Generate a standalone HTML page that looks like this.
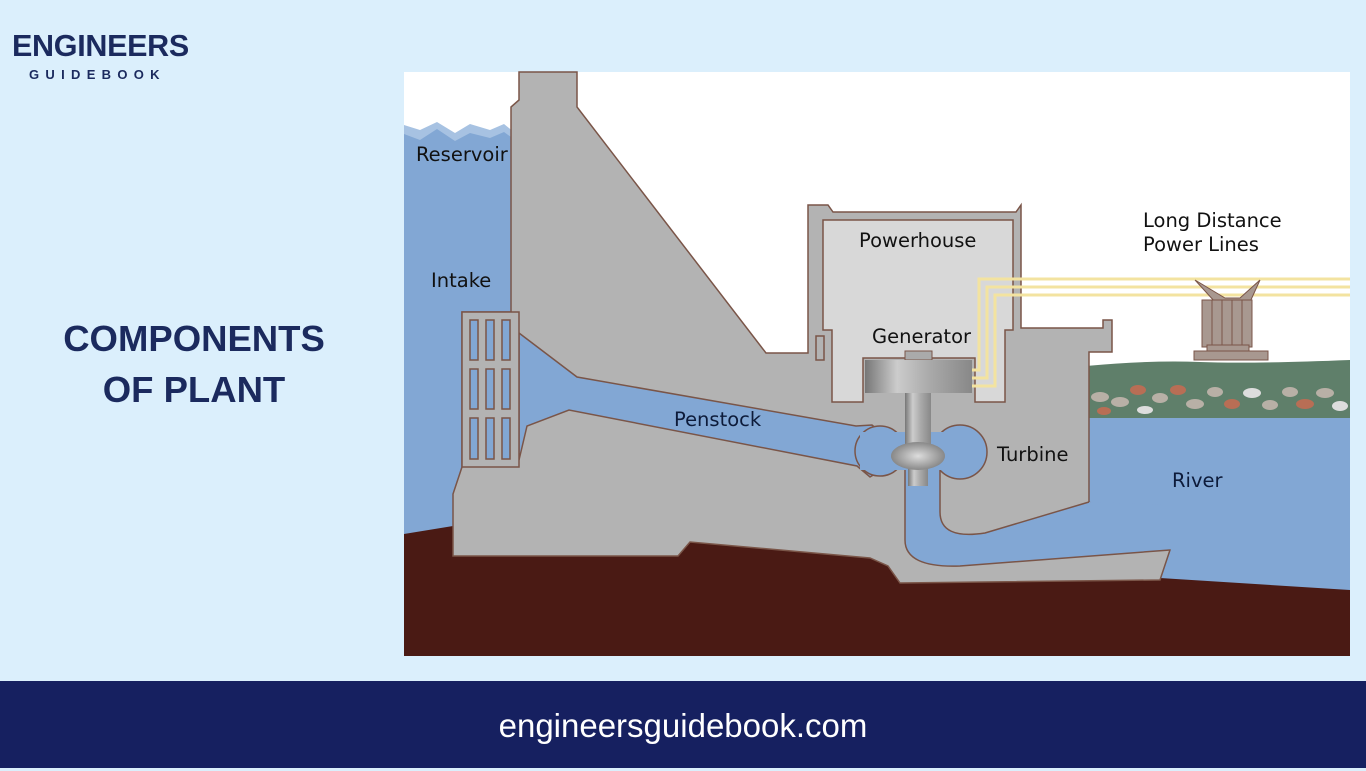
<!DOCTYPE html>
<html><head><meta charset="utf-8"><style>
html,body{margin:0;padding:0}
body{width:1366px;height:768px;background:#dbeffc;position:relative;overflow:hidden;font-family:"Liberation Sans",sans-serif}
.l1{position:absolute;left:12px;top:29px;font-weight:bold;font-size:30.5px;color:#1b2a5e;letter-spacing:-0.3px}
.l2{position:absolute;left:29px;top:67px;font-weight:bold;font-size:13px;color:#1b2a5e;letter-spacing:6.3px}
.t{position:absolute;left:0;width:388px;text-align:center;font-weight:bold;font-size:36.5px;color:#1b2a5e}
.foot{position:absolute;left:0;top:681px;width:1366px;height:87px;background:#162060;color:#fff;font-size:33px;text-align:center;line-height:90px}
svg{position:absolute;left:0;top:0}
</style></head><body>
<div class="l1">ENGINEERS</div>
<div class="l2">GUIDEBOOK</div>
<div class="t" style="top:318px">COMPONENTS</div>
<div class="t" style="top:369px">OF PLANT</div>
<svg width="1366" height="768" viewBox="0 0 1366 768">
<defs>
<linearGradient id="m" x1="0" x2="1"><stop offset="0" stop-color="#777"/><stop offset=".3" stop-color="#ccc"/><stop offset=".6" stop-color="#aaa"/><stop offset="1" stop-color="#888"/></linearGradient>
<radialGradient id="tb"><stop offset="0" stop-color="#ddd"/><stop offset="1" stop-color="#888"/></radialGradient>
</defs>
<rect x="404" y="72" width="946" height="584" fill="#fff"/>
<polygon points="404,125 420,130 437,122 455,133 470,124 490,130 504,124 515,133 515,560 404,560" fill="#a7c2e2"/>
<polygon points="404,134 420,140 437,129 455,141 470,133 490,138 504,132 515,140 515,560 404,560" fill="#82a7d4"/>
<rect x="1080" y="410" width="270" height="200" fill="#82a7d4"/>
<path d="M1086,366 Q1150,360 1200,362 T1350,360 L1350,418 L1086,418 Z" fill="#5f7f6a"/>
<g fill="#b8b0a6">
<ellipse cx="1100" cy="397" rx="9" ry="5"/><ellipse cx="1138" cy="390" rx="8" ry="5" fill="#b86e55"/><ellipse cx="1120" cy="402" rx="9" ry="5"/><ellipse cx="1160" cy="398" rx="8" ry="5"/><ellipse cx="1178" cy="390" rx="8" ry="5" fill="#b86e55"/><ellipse cx="1195" cy="404" rx="9" ry="5"/><ellipse cx="1215" cy="392" rx="8" ry="5"/><ellipse cx="1232" cy="404" rx="8" ry="5" fill="#b86e55"/><ellipse cx="1252" cy="393" rx="9" ry="5" fill="#ddd"/><ellipse cx="1270" cy="405" rx="8" ry="5"/><ellipse cx="1290" cy="392" rx="8" ry="5"/><ellipse cx="1305" cy="404" rx="9" ry="5" fill="#b86e55"/><ellipse cx="1325" cy="393" rx="9" ry="5"/><ellipse cx="1340" cy="406" rx="8" ry="5" fill="#ddd"/><ellipse cx="1145" cy="410" rx="8" ry="4" fill="#ddd"/><ellipse cx="1104" cy="411" rx="7" ry="4" fill="#b86e55"/>
</g>
<polygon points="404,534 453,526 453,556 678,556 690,542 870,558 888,566 900,583 1160,578 1350,590 1350,656 404,656" fill="#4a1a14"/>
<text x="416" y="161" font-family="DejaVu Sans, sans-serif" font-size="19.5" fill="#111">Reservoir</text>
<polygon points="519,72 577,72 577,107 766,353 808,353 808,205 828,205 833,212 1016,212 1021,205 1021,328 1103,328 1103,320 1112,320 1112,352 1089,352 1089,502 1170,550 1160,580 900,583 888,566 870,558 690,542 678,556 453,556 453,494 462,467 462,312 511,312 511,107 519,100" fill="#b3b3b3" stroke="#7a5548" stroke-width="1.5"/>
<polygon points="519,333 577,377 856,426 872,425 890,440 890,465 870,477 857,466 569,410 527,426 519,460" fill="#82a7d4" stroke="#7a5548" stroke-width="1.5"/>
<circle cx="880" cy="451" r="25" fill="#82a7d4" stroke="#7a5548" stroke-width="1.5"/>
<circle cx="960" cy="452" r="27" fill="#82a7d4" stroke="#7a5548" stroke-width="1.5"/>
<path d="M905,470 L905,540 Q905,568 960,566 L1170,550 L1170,505 L1089,502 L985,533 Q940,540 940,512 L940,470 Z" fill="#82a7d4"/>
<path d="M905,470 L905,540 Q905,568 960,566 L1170,550 M1089,502 L985,533 Q940,540 940,512 L940,470" fill="none" stroke="#7a5548" stroke-width="1.5"/>
<rect x="860" y="432" width="95" height="38" fill="#82a7d4"/>
<polygon points="823,220 1013,220 1013,330 1005,330 1005,402 975,402 975,358 863,358 863,402 832,402 832,330 823,330" fill="#d8d8d8" stroke="#7a5548" stroke-width="1.5"/>
<rect x="816" y="336" width="8" height="24" fill="#b3b3b3" stroke="#7a5548" stroke-width="1.5"/>
<rect x="905" y="351" width="27" height="9" fill="#aaa" stroke="#7a5548"/>
<rect x="865" y="360" width="107" height="33" fill="url(#m)"/>
<rect x="905" y="393" width="26" height="52" fill="url(#m)"/>
<rect x="908" y="462" width="20" height="24" fill="url(#m)"/>
<ellipse cx="918" cy="456" rx="27" ry="14" fill="url(#tb)"/>
<g fill="none" stroke="#f3e3a0" stroke-width="3">
<path d="M972,370 H979 V279 H1350"/><path d="M972,378 H987 V287 H1350"/><path d="M972,386 H995 V295 H1350"/>
</g>
<polygon points="1195,280 1215,302 1250,302 1260,280 1240,298 1225,298" fill="#a89890" stroke="#7a5548"/>
<rect x="1202" y="300" width="50" height="47" fill="#a89890" stroke="#7a5548"/>
<g stroke="#7a5548"><line x1="1212" y1="300" x2="1212" y2="347"/><line x1="1222" y1="300" x2="1222" y2="347"/><line x1="1232" y1="300" x2="1232" y2="347"/><line x1="1242" y1="300" x2="1242" y2="347"/></g>
<rect x="1207" y="345" width="42" height="6" fill="#a89890" stroke="#7a5548"/>
<rect x="1194" y="351" width="74" height="9" fill="#a89890" stroke="#7a5548"/>
<g font-family="DejaVu Sans, sans-serif" font-size="19.5" fill="#111">
<text x="431" y="287">Intake</text>
<text x="859" y="247">Powerhouse</text>
<text x="872" y="343">Generator</text>
<text x="674" y="426" fill="#0d1b3a">Penstock</text>
<text x="997" y="461">Turbine</text>
<text x="1172" y="487" fill="#0d1b3a">River</text>
<text x="1143" y="227">Long Distance</text>
<text x="1143" y="251">Power Lines</text>
</g>
<rect x="462" y="312" width="57" height="155" fill="#b3b3b3" stroke="#7a5548" stroke-width="1.5"/>
<g fill="#82a7d4" stroke="#7a5548" stroke-width="1.5">
<rect x="470" y="320" width="8" height="40"/><rect x="486" y="320" width="8" height="40"/><rect x="502" y="320" width="8" height="40"/>
<rect x="470" y="369" width="8" height="40"/><rect x="486" y="369" width="8" height="40"/><rect x="502" y="369" width="8" height="40"/>
<rect x="470" y="418" width="8" height="41"/><rect x="486" y="418" width="8" height="41"/><rect x="502" y="418" width="8" height="41"/>
</g>
</svg>
<div class="foot">engineersguidebook.com</div>
</body></html>
